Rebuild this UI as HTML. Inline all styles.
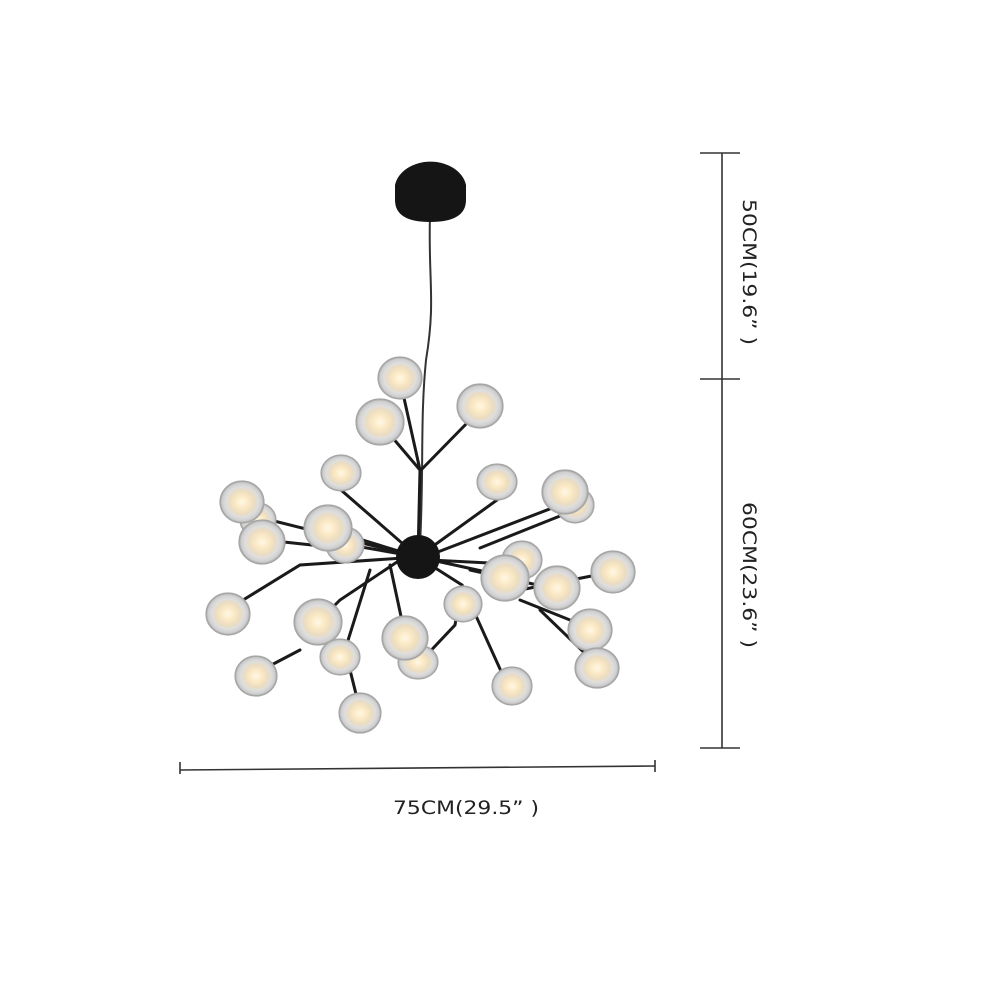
<!DOCTYPE html>
<html><head><meta charset="utf-8"><style>body{margin:0;background:#fff}svg{display:block}</style></head>
<body>
<svg width="1000" height="1000" viewBox="0 0 1000 1000" xmlns="http://www.w3.org/2000/svg">
<defs>
<radialGradient id="b" cx="0.5" cy="0.5" r="0.5">
<stop offset="0" stop-color="#fff8e6"/>
<stop offset="0.3" stop-color="#fbe9c4"/>
<stop offset="0.58" stop-color="#eadcc2"/>
<stop offset="0.72" stop-color="#dedede"/>
<stop offset="0.9" stop-color="#cfcfcf"/>
<stop offset="1" stop-color="#a0a0a0"/>
</radialGradient>
</defs>
<rect width="1000" height="1000" fill="#fff"/>
<path d="M430 215 C428 280 436 300 426 360 C420 420 424 470 420 545" stroke="#333" stroke-width="2" fill="none"/>
<path d="M395 185 A36 28 0 0 1 466 185 L466 200 Q466 222 430 222 Q395 222 395 200 Z" fill="#151515"/>
<g stroke="#1a1a1a" stroke-width="3" fill="none" stroke-linecap="round">
<path d="M418 557 L420 470 L404 398"/><path d="M420 470 L386 430"/><path d="M421 470 L470 420"/>
<path d="M418 557 L341 490"/><path d="M418 557 L497 500 L497 482"/><path d="M430 555 L560 505"/><path d="M480 548 L575 510"/>
<path d="M418 557 L270 520 L250 505"/><path d="M340 548 L265 540"/><path d="M418 557 L330 530"/><path d="M418 557 L350 545"/>
<path d="M418 557 L300 565 L235 605"/><path d="M400 560 L340 600 L320 620"/><path d="M370 570 L345 650 L360 710"/>
<path d="M300 650 L258 672"/><path d="M390 565 L405 635"/><path d="M418 557 L500 575"/><path d="M430 560 L530 565"/>
<path d="M418 557 L462 585 L455 625 L422 660"/><path d="M462 585 L505 680"/><path d="M470 570 L560 590"/><path d="M520 590 L612 572"/>
<path d="M520 600 L590 628"/><path d="M540 610 L597 665"/>
</g>
<circle cx="418" cy="557" r="22" fill="#151515"/>
<g fill="url(#b)" stroke="#a5a5a5" stroke-width="1.2">
<ellipse cx="400" cy="378" rx="22" ry="21"/>
<ellipse cx="380" cy="422" rx="24" ry="23"/>
<ellipse cx="480" cy="406" rx="23" ry="22"/>
<ellipse cx="341" cy="473" rx="20" ry="18"/>
<ellipse cx="497" cy="482" rx="20" ry="18"/>
<ellipse cx="575" cy="505" rx="19" ry="18"/>
<ellipse cx="565" cy="492" rx="23" ry="22"/>
<ellipse cx="258" cy="520" rx="18" ry="17"/>
<ellipse cx="242" cy="502" rx="22" ry="21"/>
<ellipse cx="262" cy="542" rx="23" ry="22"/>
<ellipse cx="345" cy="545" rx="19" ry="18"/>
<ellipse cx="328" cy="528" rx="24" ry="23"/>
<ellipse cx="228" cy="614" rx="22" ry="21"/>
<ellipse cx="522" cy="560" rx="20" ry="19"/>
<ellipse cx="505" cy="578" rx="24" ry="23"/>
<ellipse cx="557" cy="588" rx="23" ry="22"/>
<ellipse cx="613" cy="572" rx="22" ry="21"/>
<ellipse cx="463" cy="604" rx="19" ry="18"/>
<ellipse cx="318" cy="622" rx="24" ry="23"/>
<ellipse cx="340" cy="657" rx="20" ry="18"/>
<ellipse cx="418" cy="662" rx="20" ry="17"/>
<ellipse cx="405" cy="638" rx="23" ry="22"/>
<ellipse cx="590" cy="630" rx="22" ry="21"/>
<ellipse cx="597" cy="668" rx="22" ry="20"/>
<ellipse cx="512" cy="686" rx="20" ry="19"/>
<ellipse cx="256" cy="676" rx="21" ry="20"/>
<ellipse cx="360" cy="713" rx="21" ry="20"/>
</g>
<g stroke="#333" stroke-width="1.6" fill="none">
<line x1="722" y1="153" x2="722" y2="748"/>
<line x1="700" y1="153" x2="740" y2="153"/>
<line x1="700" y1="379" x2="740" y2="379"/>
<line x1="700" y1="748" x2="740" y2="748"/>
<line x1="180" y1="770" x2="655" y2="766"/>
<line x1="180" y1="762" x2="180" y2="774"/>
<line x1="655" y1="760" x2="655" y2="772"/>
</g>
<g font-family="DejaVu Sans, Liberation Sans, sans-serif" font-size="19" fill="#222">
<text x="466" y="814" text-anchor="middle" textLength="146" lengthAdjust="spacingAndGlyphs">75CM(29.5” )</text>
<text transform="translate(743,272) rotate(90)" text-anchor="middle" textLength="146" lengthAdjust="spacingAndGlyphs">50CM(19.6” )</text>
<text transform="translate(743,575) rotate(90)" text-anchor="middle" textLength="146" lengthAdjust="spacingAndGlyphs">60CM(23.6” )</text>
</g>
</svg>
</body></html>
